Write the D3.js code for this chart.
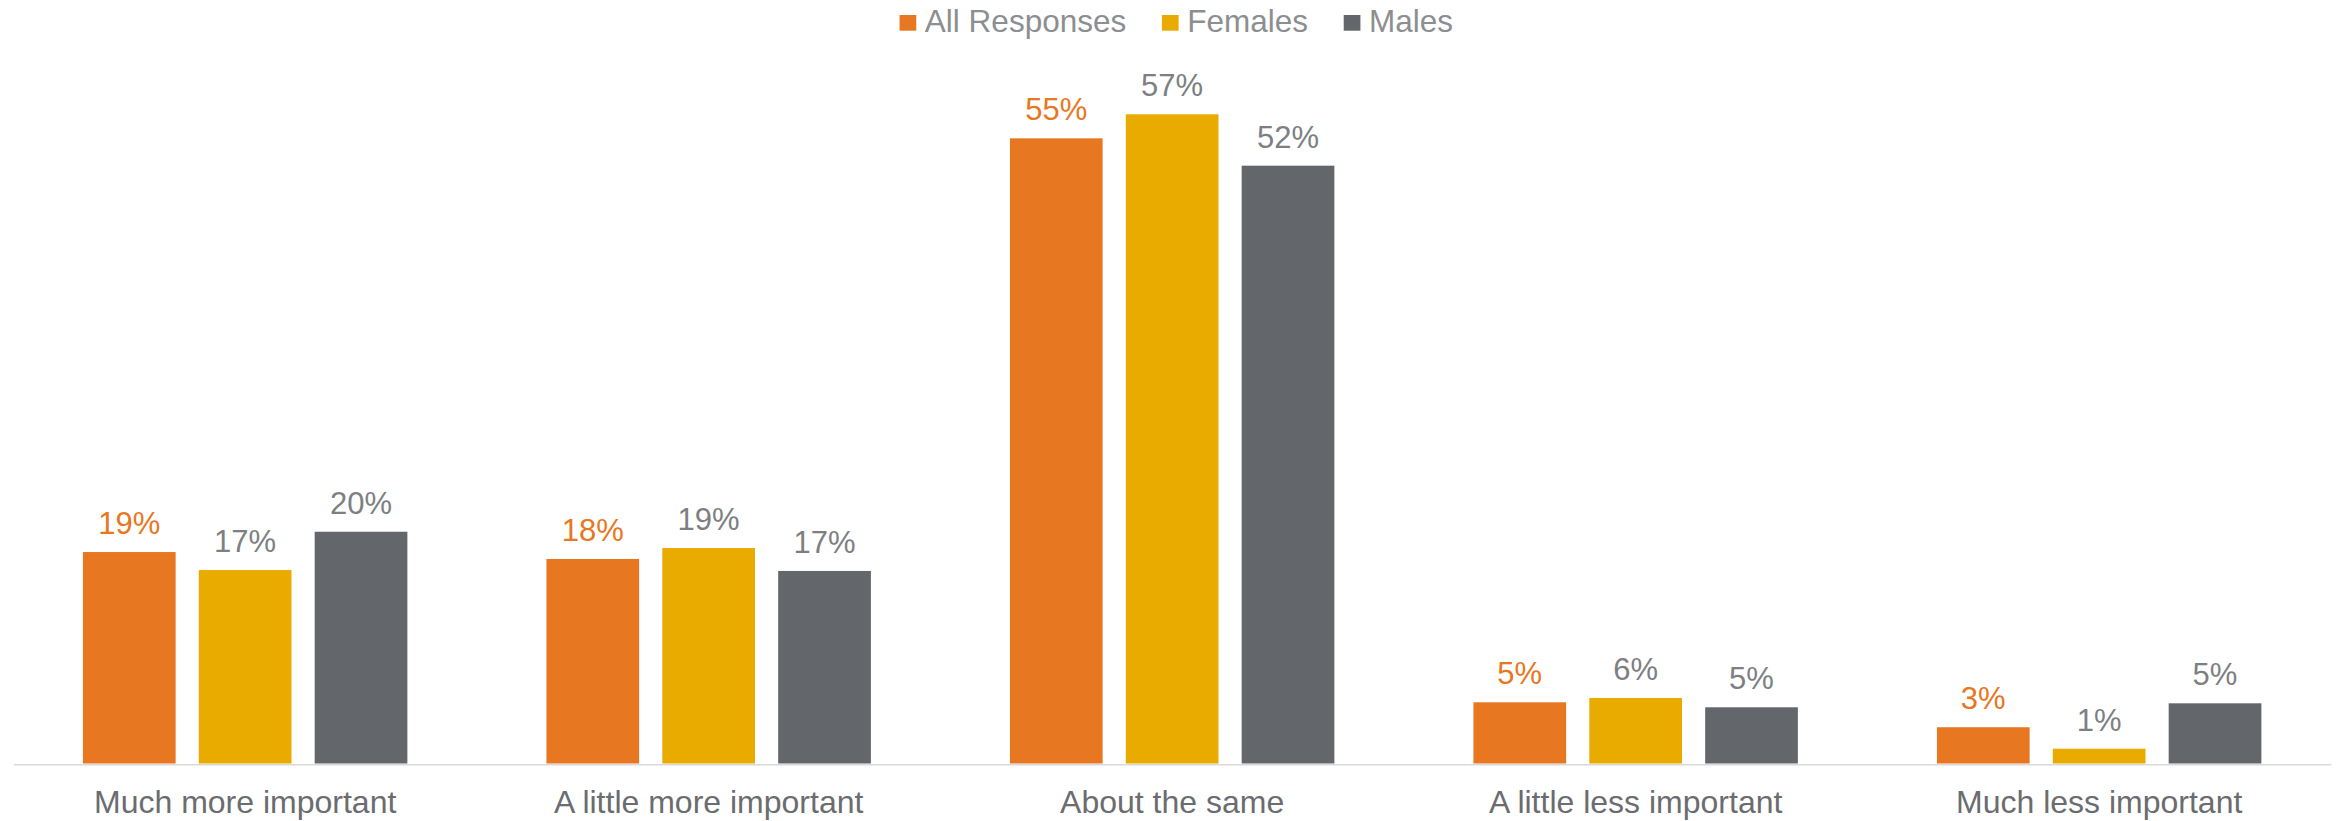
<!DOCTYPE html>
<html>
<head>
<meta charset="utf-8">
<script src="https://cdn.jsdelivr.net/npm/d3@7"></script>
<style>
  html, body { margin: 0; padding: 0; background: #ffffff; }
  svg { display: block; font-family: "Liberation Sans", Arial, sans-serif; }
</style>
</head>
<body>
<svg id="chart" width="2341" height="821"></svg>
<script>
// Survey answers, share of respondents per answer
const categories = [
  "Much more important",
  "A little more important",
  "About the same",
  "A little less important",
  "Much less important"
];
const seriesNames = ["All Responses", "Females", "Males"];
const allResponses = [0.1855, 0.1794, 0.5484, 0.0537, 0.0318];
const females      = [0.1697, 0.1890, 0.5695, 0.0575, 0.0130];
const males        = [0.2033, 0.1689, 0.5244, 0.0493, 0.0528];

const seriesValues = [allResponses, females, males];
const barColors   = ["#E87722", "#EAAB00", "#63666A"];
const labelColors = ["#E87722", "#7d7f82", "#7d7f82"];

const W = 2341, H = 821;
const baseY = 763.5;
const svg = d3.select("#chart");

const x0 = d3.scaleBand()
  .domain(categories)
  .range([13.4, 2330.9])
  .paddingInner(0.3)
  .paddingOuter(0.15);

const x1 = d3.scaleBand()
  .domain(seriesNames)
  .range([0, x0.bandwidth()])
  .paddingInner(0.2)
  .paddingOuter(0);

const y = d3.scaleLinear()
  .domain([0, 0.6])
  .range([baseY, 79.5]);

const fmt = d3.format(".0%");

const rows = categories.map((c, i) => ({
  category: c,
  values: seriesNames.map((s, k) => ({ series: s, k, value: seriesValues[k][i] }))
}));

// Bars and value labels
const groups = svg.append("g").selectAll("g")
  .data(rows)
  .join("g")
  .attr("transform", d => `translate(${x0(d.category)},0)`);

groups.selectAll("rect")
  .data(d => d.values)
  .join("rect")
  .attr("x", d => x1(d.series))
  .attr("y", d => y(d.value))
  .attr("width", x1.bandwidth())
  .attr("height", d => y(0) - y(d.value))
  .attr("fill", d => barColors[d.k]);

groups.selectAll("text.value")
  .data(d => d.values)
  .join("text")
  .attr("class", "value")
  .attr("x", d => x1(d.series) + x1.bandwidth() / 2)
  .attr("y", d => y(d.value) - 18)
  .attr("text-anchor", "middle")
  .attr("font-size", "31px")
  .attr("fill", d => labelColors[d.k])
  .text(d => fmt(d.value));

// Category axis
const xAxis = d3.axisBottom(x0).tickSize(0).tickPadding(0);
const axisG = svg.append("g")
  .attr("transform", `translate(0,${baseY + 0.8})`)
  .call(xAxis);
axisG.select(".domain")
  .attr("stroke", "#d9d9d9")
  .attr("stroke-width", 1.6);
axisG.selectAll(".tick text")
  .attr("font-family", "\"Liberation Sans\", Arial, sans-serif")
  .attr("font-size", "32px")
  .attr("fill", "#6b6c6f")
  .attr("dy", null)
  .attr("y", 48.4);

// Legend, centred above the plot
const legend = svg.append("g").attr("class", "legend");
const items = legend.selectAll("g")
  .data(seriesNames)
  .join("g");
items.append("rect")
  .attr("x", 0)
  .attr("y", 15)
  .attr("width", 16.7)
  .attr("height", 15.7)
  .attr("fill", (d, i) => barColors[i]);
items.append("text")
  .attr("x", 25.3)
  .attr("y", 31.7)
  .attr("font-size", "31.5px")
  .attr("fill", "#8c8e91")
  .text(d => d);

let cursor = 0;
const offsets = [];
items.each(function () {
  const w = 25.3 + d3.select(this).select("text").node().getComputedTextLength();
  offsets.push(cursor);
  cursor += w + 35.7;
});
const legendWidth = cursor - 35.7;
const legendStart = 1176.3 - legendWidth / 2;
items.attr("transform", (d, i) => `translate(${legendStart + offsets[i]},0)`);
</script>
</body>
</html>
